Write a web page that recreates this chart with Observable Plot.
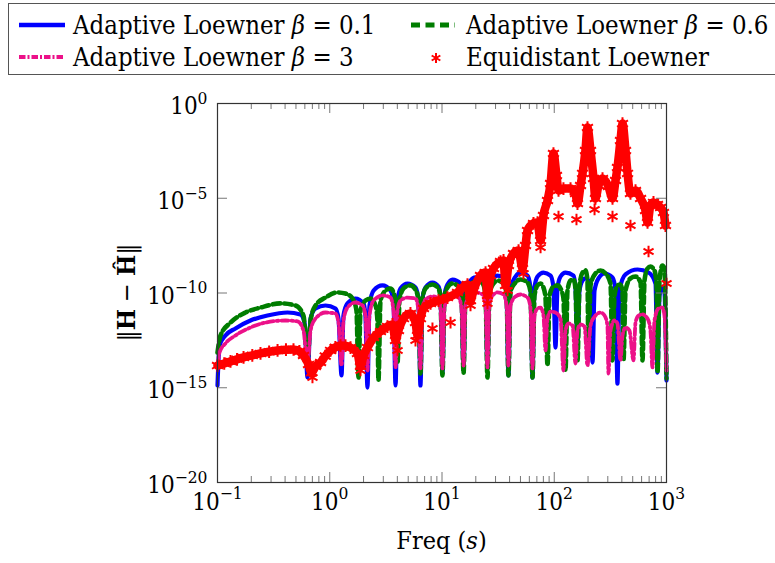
<!DOCTYPE html>
<html><head><meta charset="utf-8">
<script src="https://cdn.jsdelivr.net/npm/d3@7"></script>
<script src="https://cdn.jsdelivr.net/npm/@observablehq/plot@0.6"></script>
<style>
html,body{margin:0;padding:0;background:#fff;overflow:hidden;}
#wrap{position:relative;width:775px;height:563px;overflow:hidden;font-family:"DejaVu Serif Condensed","DejaVu Serif",serif;font-stretch:condensed;}
#chart{position:absolute;left:0;top:0;}
#legendBox{position:absolute;left:8px;top:3px;width:820px;height:72px;border:1px solid #555;box-sizing:border-box;}
.lt{position:absolute;font-size:25.5px;line-height:26px;white-space:nowrap;color:#000;}
#legendSvg{position:absolute;left:0;top:0;}
</style></head>
<body>
<div id="wrap">
  <div id="chart"></div>
  <div id="legendBox"></div>
  <svg id="legendSvg" width="775" height="80"></svg>
  <div class="lt" style="left:73px;top:12px">Adaptive Loewner <i>β</i> = 0.1</div>
  <div class="lt" style="left:466px;top:12px">Adaptive Loewner <i>β</i> = 0.6</div>
  <div class="lt" style="left:73px;top:44px">Adaptive Loewner <i>β</i> = 3</div>
  <div class="lt" style="left:466px;top:44px">Equidistant Loewner</div>
</div>
<script>
// ---- Data: pairs of [log10(frequency), log10(error)] ----
const seriesNames = ["Adaptive Loewner β = 0.1", "Adaptive Loewner β = 0.6", "Adaptive Loewner β = 3", "Equidistant Loewner"];

const blueCurve = [
[-1.000,-14.88],[-0.982,-12.77],[-0.929,-12.24],[-0.840,-11.87],[-0.706,-11.45],[-0.555,-11.19],[-0.376,-11.03],[-0.261,-11.13],[-0.225,-11.56],[-0.198,-14.46],
[-0.171,-11.35],[-0.127,-10.82],[-0.038,-10.66],[0.051,-10.82],[0.078,-11.35],[0.105,-14.35],
[0.122,-11.19],[0.158,-10.55],[0.229,-10.29],[0.301,-10.55],[0.318,-11.19],[0.336,-14.99],
[0.354,-10.66],[0.390,-9.87],[0.470,-9.60],[0.541,-9.87],[0.568,-10.50],[0.586,-14.88],
[0.604,-10.40],[0.630,-9.76],[0.693,-9.50],[0.764,-9.71],[0.791,-10.40],[0.808,-14.88],
[0.826,-10.29],[0.853,-9.71],[0.915,-9.45],[0.969,-9.66],[0.987,-10.24],[1.004,-14.25],
[1.022,-10.13],[1.049,-9.55],[1.094,-9.29],[1.165,-9.50],[1.174,-10.13],[1.192,-14.09],
[1.209,-9.97],[1.254,-9.34],[1.298,-9.18],[1.370,-9.34],[1.388,-9.97],[1.405,-13.98],
[1.423,-9.87],[1.459,-9.23],[1.494,-9.08],[1.566,-9.23],[1.575,-9.87],[1.592,-14.35],
[1.610,-9.76],[1.655,-9.13],[1.699,-8.92],[1.762,-9.08],[1.788,-9.71],[1.806,-14.46],
[1.824,-9.71],[1.851,-9.13],[1.904,-8.92],[1.967,-9.08],[1.993,-9.71],[2.011,-12.88],
[2.029,-9.71],[2.056,-9.13],[2.100,-8.92],[2.172,-9.08],[2.189,-9.71],[2.207,-12.77],
[2.225,-9.87],[2.252,-9.34],[2.278,-9.23],[2.314,-9.45],[2.323,-9.97],[2.341,-13.67],
[2.359,-9.87],[2.394,-9.23],[2.448,-8.97],[2.519,-9.18],[2.546,-9.87],[2.563,-14.78],
[2.581,-9.87],[2.635,-9.02],[2.742,-8.76],[2.840,-8.92],[2.902,-9.50],[2.920,-14.20],
[2.938,-10.13],[2.964,-9.66],[2.982,-9.97],[3.000,-14.62]
];

const greenCurve = [
[-1.000,-13.14],[-0.973,-12.24],[-0.884,-11.56],[-0.751,-11.03],[-0.617,-10.77],[-0.439,-10.55],[-0.305,-10.66],[-0.234,-11.19],[-0.198,-13.46],
[-0.171,-11.45],[-0.127,-10.66],[-0.038,-10.24],[0.069,-9.97],[0.140,-10.03],[0.203,-10.29],[0.238,-10.92],[0.256,-14.46],
[0.274,-10.92],[0.318,-10.40],[0.363,-10.29],[0.408,-10.66],[0.425,-11.45],[0.434,-14.62],
[0.452,-10.40],[0.497,-9.87],[0.541,-9.76],[0.577,-10.13],[0.595,-10.92],[0.604,-13.67],
[0.621,-10.40],[0.657,-9.76],[0.719,-9.60],[0.764,-9.82],[0.791,-10.40],[0.808,-14.25],
[0.826,-10.29],[0.853,-9.76],[0.915,-9.55],[0.969,-9.76],[0.987,-10.29],[1.004,-14.35],
[1.022,-10.18],[1.049,-9.71],[1.094,-9.50],[1.147,-9.66],[1.174,-10.18],[1.192,-14.25],
[1.209,-10.13],[1.254,-9.55],[1.298,-9.39],[1.361,-9.50],[1.388,-10.13],[1.405,-14.46],
[1.423,-10.03],[1.459,-9.50],[1.494,-9.34],[1.548,-9.50],[1.575,-10.03],[1.592,-14.35],
[1.610,-9.92],[1.655,-9.45],[1.699,-9.29],[1.762,-9.45],[1.788,-9.92],[1.806,-14.46],
[1.824,-10.13],[1.851,-9.60],[1.878,-9.50],[1.904,-9.71],[1.922,-10.24],[1.940,-13.83],
[1.958,-10.13],[1.993,-9.66],[2.029,-9.60],[2.056,-9.76],[2.082,-10.29],[2.100,-14.09],
[2.118,-9.87],[2.145,-9.34],[2.172,-9.29],[2.189,-9.76],[2.207,-13.56],
[2.225,-9.60],[2.252,-8.92],[2.278,-8.81],[2.296,-9.34],[2.305,-13.30],
[2.323,-9.60],[2.367,-8.97],[2.412,-8.81],[2.457,-8.97],[2.501,-9.50],[2.519,-13.56],
[2.537,-10.13],[2.563,-9.60],[2.590,-9.55],[2.608,-9.97],[2.617,-13.56],
[2.635,-9.87],[2.679,-9.23],[2.724,-9.13],[2.769,-9.45],[2.786,-13.56],
[2.804,-9.34],[2.831,-8.71],[2.857,-8.60],[2.893,-8.81],[2.911,-9.60],[2.920,-14.20],
[2.938,-9.34],[2.964,-8.55],[2.982,-8.71],[3.000,-14.51]
];

const pinkCurve = [
[-1.000,-13.98],[-0.982,-13.14],[-0.929,-12.66],[-0.840,-12.24],[-0.706,-11.82],[-0.572,-11.56],[-0.394,-11.45],[-0.287,-11.50],[-0.234,-11.98],[-0.198,-13.83],
[-0.171,-11.98],[-0.127,-11.35],[-0.038,-11.03],[0.051,-11.08],[0.078,-11.56],[0.105,-13.83],
[0.122,-11.45],[0.158,-10.77],[0.229,-10.50],[0.292,-10.66],[0.318,-11.19],[0.336,-14.09],
[0.354,-11.19],[0.390,-10.40],[0.470,-10.13],[0.541,-10.24],[0.568,-10.92],[0.586,-13.93],
[0.604,-10.92],[0.630,-10.40],[0.693,-10.24],[0.764,-10.29],[0.791,-10.92],[0.808,-13.98],
[0.826,-10.82],[0.853,-10.34],[0.915,-10.18],[0.969,-10.29],[0.987,-10.82],[1.004,-13.98],
[1.022,-10.77],[1.049,-10.29],[1.094,-10.13],[1.147,-10.24],[1.174,-10.77],[1.192,-13.83],
[1.209,-10.66],[1.254,-10.13],[1.298,-9.97],[1.361,-10.08],[1.388,-10.66],[1.405,-13.93],
[1.423,-10.55],[1.459,-10.08],[1.494,-9.97],[1.548,-10.08],[1.575,-10.66],[1.592,-13.83],
[1.610,-10.66],[1.655,-10.18],[1.699,-10.08],[1.762,-10.24],[1.788,-10.77],[1.806,-13.98],
[1.824,-11.19],[1.851,-10.82],[1.878,-10.77],[1.904,-11.19],[1.922,-13.03],
[1.940,-11.35],[1.967,-10.98],[2.011,-11.03],[2.056,-11.35],[2.082,-14.09],
[2.100,-11.98],[2.127,-11.61],[2.163,-11.72],[2.189,-13.72],
[2.207,-11.98],[2.234,-11.66],[2.270,-11.77],[2.296,-13.83],
[2.323,-11.72],[2.367,-11.19],[2.412,-11.03],[2.448,-11.19],[2.474,-11.72],[2.483,-14.25],
[2.501,-11.98],[2.537,-11.45],[2.563,-11.61],[2.590,-13.56],
[2.608,-12.24],[2.635,-11.82],[2.670,-11.98],[2.706,-13.56],
[2.724,-11.56],[2.751,-11.19],[2.786,-11.13],[2.831,-11.35],[2.857,-11.98],[2.875,-13.93],
[2.893,-11.45],[2.929,-10.82],[2.964,-10.77],[2.982,-11.19],[3.000,-14.09]
];

const redCurve = [
[-1.000,-13.83],[-0.940,-13.72],[-0.884,-13.61],[-0.826,-13.50],[-0.768,-13.40],[-0.690,-13.29],[-0.617,-13.19],[-0.540,-13.10],[-0.465,-13.03],[-0.390,-12.99],[-0.323,-12.98],[-0.270,-13.08],[-0.234,-13.30],[-0.189,-13.77],[-0.163,-14.20],[-0.127,-13.88],
[-0.082,-13.67],[-0.040,-13.33],[0.007,-13.03],[0.050,-12.87],[0.096,-12.77],[0.140,-12.78],[0.185,-12.88],[0.247,-13.19],[0.274,-13.88],[0.301,-13.30],[0.336,-12.88],
[0.390,-12.35],[0.452,-12.03],[0.514,-11.77],[0.559,-11.66],[0.586,-12.51],[0.612,-11.98],[0.657,-11.35],[0.719,-11.08],
[0.764,-11.56],[0.782,-12.24],[0.808,-11.35],[0.835,-10.82],[0.898,-10.55],[0.969,-10.40],[1.049,-10.24],[1.138,-9.97],
[1.183,-9.71],[1.227,-9.55],[1.254,-10.40],[1.281,-9.87],[1.343,-9.08],[1.388,-8.92],[1.405,-10.13],[1.432,-9.08],
[1.459,-8.71],[1.521,-8.34],[1.548,-8.28],[1.566,-9.60],[1.592,-8.55],[1.637,-7.92],[1.682,-7.76],[1.717,-8.71],
[1.744,-7.49],[1.762,-6.70],[1.815,-6.33],[1.851,-6.28],[1.878,-7.23],[1.904,-5.91],[1.940,-5.12],[1.967,-4.22],
[1.993,-2.64],[2.020,-3.80],[2.038,-4.59],[2.082,-4.49],[2.145,-4.49],[2.189,-4.75],[2.207,-5.28],[2.234,-4.33],
[2.252,-3.69],[2.278,-2.48],[2.296,-1.27],[2.323,-2.48],[2.350,-3.96],[2.367,-5.01],[2.394,-4.33],[2.430,-3.96],
[2.483,-4.38],[2.519,-5.01],[2.546,-4.06],[2.563,-3.38],[2.590,-1.95],[2.608,-1.06],[2.635,-2.48],[2.653,-3.69],
[2.679,-4.75],[2.724,-4.59],[2.769,-5.01],[2.813,-5.65],[2.831,-6.28],[2.857,-5.38],[2.884,-5.22],[2.920,-5.33],
[2.947,-5.49],[2.973,-5.75],[2.991,-6.44]
];

const redIsolated = [
[-0.154,-14.46],[0.274,-14.09],[0.604,-13.03],[0.764,-12.51],[0.915,-11.87],[1.076,-11.56],[1.254,-10.66],[1.405,-10.55],
[1.584,-9.87],[1.726,-8.97],[1.878,-7.60],[2.038,-5.96],[2.198,-6.12],[2.359,-5.59],[2.519,-5.96],[2.679,-6.44],[2.840,-7.81],[3.000,-9.50]
];

const xMajorTicks = [0.1, 1, 10, 100, 1000];
const xMinorTicks = [0.2,0.3,0.4,0.5,0.6,0.7,0.8,0.9, 2,3,4,5,6,7,8,9, 20,30,40,50,60,70,80,90, 200,300,400,500,600,700,800,900];
const yMajorTicks = [1e-20, 1e-15, 1e-10, 1e-5, 1];

// ---- build rows ----
const toRows = pairs => pairs.map(([lf, le]) => ({f: Math.pow(10, lf), e: Math.pow(10, le)}));
const blue = toRows(blueCurve), green = toRows(greenCurve), pink = toRows(pinkCurve);
const red = toRows(redCurve), redOut = toRows(redIsolated);

const W = 775, H = 563, mL = 217, mR = 109, mT = 103, mB = 81;
const FW = W - mL - mR, FH = H - mT - mB;
const FONT = "'DejaVu Serif Condensed', 'DejaVu Serif', serif";
const expFmt = d => "10^" + String(Math.round(Math.log10(d))).replace("-", "\u2212");
const COL = {blue: "#0000ff", green: "#007d00", pink: "#ec1189", red: "#ff0000"};

const chart = Plot.plot({
  width: W, height: H,
  marginLeft: mL, marginRight: mR, marginTop: mT, marginBottom: mB,
  style: {fontFamily: FONT, fontSize: "20px", background: "white", color: "black", fontStretch: "condensed"},
  x: {type: "log", domain: [0.1, 1000]},
  y: {type: "log", domain: [1e-20, 1]},
  marks: [
    Plot.line(blue, {x: "f", y: "e", stroke: COL.blue, strokeWidth: 4.2, curve: "monotone-x"}),
    Plot.line(green, {x: "f", y: "e", stroke: COL.green, strokeWidth: 4.6, strokeDasharray: "7.5,4", curve: "monotone-x"}),
    Plot.line(pink, {x: "f", y: "e", stroke: COL.pink, strokeWidth: 3.8, strokeDasharray: "7,3,1.8,3", curve: "monotone-x"}),
    Plot.line(red, {x: "f", y: "e", stroke: COL.red, strokeWidth: 8.5, curve: "monotone-x"}),
    Plot.dot(red, {x: "f", y: "e", symbol: "asterisk", r: 6, stroke: COL.red, strokeWidth: 2}),
    Plot.dot(redOut, {x: "f", y: "e", symbol: "asterisk", r: 5.5, stroke: COL.red, strokeWidth: 2}),
    // inward ticks
    Plot.ruleX(xMajorTicks, {x: d => d, insetTop: FH - 10, stroke: "#777"}),
    Plot.ruleX(xMajorTicks, {x: d => d, insetBottom: FH - 10, stroke: "#777"}),
    Plot.ruleX(xMinorTicks, {x: d => d, insetTop: FH - 6, stroke: "#777"}),
    Plot.ruleX(xMinorTicks, {x: d => d, insetBottom: FH - 6, stroke: "#777"}),
    Plot.ruleY(yMajorTicks, {y: d => d, insetRight: FW - 10, stroke: "#777"}),
    Plot.ruleY(yMajorTicks, {y: d => d, insetLeft: FW - 10, stroke: "#777"}),
    Plot.frame({stroke: "#333", strokeWidth: 1.2}),
    Plot.axisX(xMajorTicks, {anchor: "bottom", tickSize: 0, tickPadding: 10, tickFormat: expFmt, fontSize: 24, label: null}),
    Plot.axisY(yMajorTicks, {anchor: "left", tickSize: 0, tickPadding: 10, dy: 3, tickFormat: expFmt, fontSize: 24, label: null})
  ]
});
document.getElementById("chart").appendChild(chart);

// superscripts for tick labels
d3.select(chart).selectAll('g[aria-label="x-axis tick label"] text, g[aria-label="y-axis tick label"] text').each(function () {
  const s = this.textContent;
  if (!s.includes("^")) return;
  const [b, e] = s.split("^");
  const t = d3.select(this);
  t.text(null);
  t.append("tspan").text(b);
  t.append("tspan").attr("dy", "-0.6em").attr("font-size", "0.72em").text(e);
});

// axis titles
const sv = d3.select(chart);
const xt = sv.append("text").attr("x", mL + FW / 2).attr("y", 549).attr("text-anchor", "middle")
  .attr("font-size", 25).attr("font-family", FONT);
xt.append("tspan").text("Freq (");
xt.append("tspan").attr("font-style", "italic").text("s");
xt.append("tspan").text(")");

const yt = sv.append("text").attr("transform", `translate(128,${mT + FH / 2}) rotate(-90)`)
  .attr("text-anchor", "middle").attr("dominant-baseline", "middle")
  .attr("font-size", 25).attr("font-family", FONT);
yt.append("tspan").text("\u2016");
yt.append("tspan").attr("font-weight", "bold").text("H");
yt.append("tspan").text(" \u2212 ");
yt.append("tspan").attr("font-weight", "bold").text("\u0124");
yt.append("tspan").text("\u2016");

// legend samples
const lg = d3.select("#legendSvg");
lg.append("line").attr("x1", 19).attr("x2", 65).attr("y1", 25).attr("y2", 25).attr("stroke", COL.blue).attr("stroke-width", 4.5);
lg.append("line").attr("x1", 411).attr("x2", 455).attr("y1", 25).attr("y2", 25).attr("stroke", COL.green).attr("stroke-width", 4.8).attr("stroke-dasharray", "9,5.5");
lg.append("line").attr("x1", 19).attr("x2", 65).attr("y1", 57).attr("y2", 57).attr("stroke", COL.pink).attr("stroke-width", 4).attr("stroke-dasharray", "6.5,2,2,2");
lg.append("path").attr("transform", "translate(436,58)").attr("d", d3.symbol(d3.symbolAsterisk, 70)()).attr("stroke", COL.red).attr("stroke-width", 2).attr("fill", "none");
</script>
</body></html>
